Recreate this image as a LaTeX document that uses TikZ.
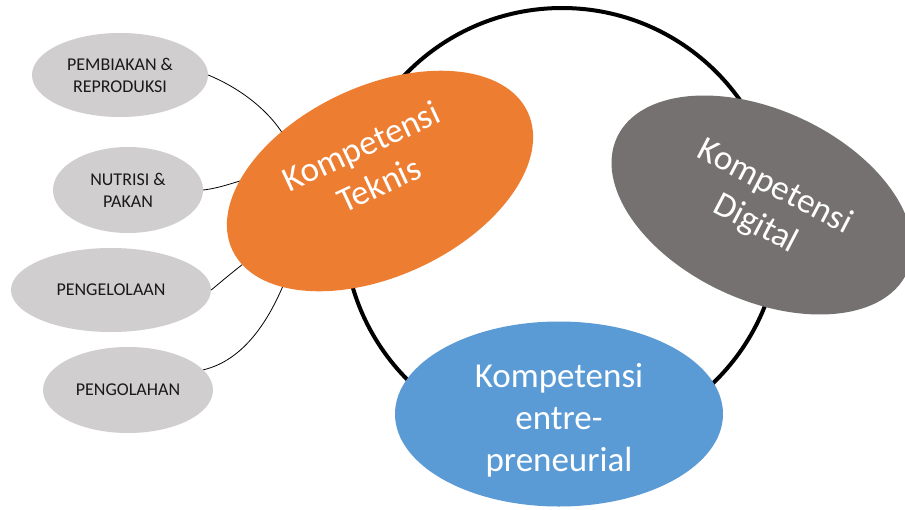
\documentclass[tikz,border=0pt]{standalone}
\usepackage{fontspec}
\setmainfont{Carlito}
\usetikzlibrary{shapes.geometric}
\definecolor{techorange}{HTML}{ED7D31}
\definecolor{digigray}{HTML}{767171}
\definecolor{entblue}{HTML}{5B9BD5}
\definecolor{subgray}{HTML}{D0CECE}
\tikzset{
  bigoval/.style={ellipse, inner sep=0pt, outer sep=0pt},
  bigtext/.style={text=white, align=center, inner sep=0pt,
    font=\fontsize{35}{42}\selectfont},
  suboval/.style={ellipse, fill=subgray, inner sep=0pt, align=center,
    font=\fontsize{18}{22}\selectfont, text=black!90},
  twig/.style={line width=0.8pt, black}
}
\begin{document}
\begin{tikzpicture}[x=1pt, y=-1pt]
  \clip (0,0) rectangle (905,509);
  \fill[white] (0,0) rectangle (905,509);

  % linking ring behind the three competences
  \node[circle, draw=black, line width=4pt, minimum size=436pt, inner sep=0pt] (ring) at (562,226) {};

  % sub-topics of the technical competence
  \node[suboval, minimum width=176pt, minimum height=84pt] (n1) at (120,75) {PEMBIAKAN \&\\REPRODUKSI};
  \node[suboval, minimum width=150pt, minimum height=86pt] (n2) at (128,190) {NUTRISI \&\\PAKAN};
  \node[suboval, minimum width=200pt, minimum height=84pt] (n3) at (111,290) {PENGELOLAAN};
  \node[suboval, minimum width=170pt, minimum height=86pt] (n4) at (128,390) {PENGOLAHAN};

  % free ends tucked under the orange oval
  \coordinate (t1) at (283,134);
  \coordinate (t2) at (247,179);
  \coordinate (t3) at (247,261);
  \coordinate (t4) at (285,281);

  \draw[twig] (n1.east) .. controls (235,86) and (265,106) .. (t1);
  \draw[twig] (n2.east) .. controls (220,188) and (232,183) .. (t2);
  \draw[twig] (n3.east) .. controls (222,281) and (235,270) .. (t3);
  \draw[twig] (n4.15) .. controls (245,360) and (270,318) .. (t4);

  % the three competences
  \node[bigoval, fill=techorange, minimum width=326pt, minimum height=190pt, rotate=25] (teknis) at (380,181) {};
  \node[bigoval, fill=digigray, minimum width=320pt, minimum height=190pt, rotate=-25] (digital) at (762,205) {};
  \node[bigoval, fill=entblue, minimum width=328pt, minimum height=185pt] (entre) at (559,414) {};

  \node[bigtext, rotate=25] (teknislbl) at (370,165) {Kompetensi\\Teknis};
  \node[bigtext, rotate=-27.5] (digitallbl) at (765,206) {Kompetensi\\Digital};
  \node[bigtext] (entrelbl) at (559,420) {Kompetensi\\entre-\\preneurial};
\end{tikzpicture}
\end{document}
